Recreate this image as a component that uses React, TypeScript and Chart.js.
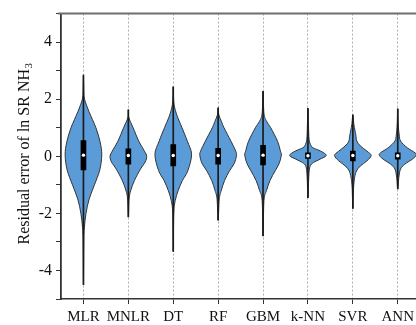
import React, { useEffect, useRef } from "react";
import { Chart, registerables } from "chart.js";

Chart.register(...registerables);

// ---- data ----
const categories = ["MLR", "MNLR", "DT", "RF", "GBM", "k-NN", "SVR", "ANN"];
const q1Values = [-0.48, -0.28, -0.34, -0.28, -0.3, -0.07, -0.16, -0.1];
const q3Values = [0.55, 0.26, 0.41, 0.28, 0.38, 0.12, 0.18, 0.12];
const medianValues = [0.04, 0.03, 0.03, 0.03, 0.04, 0.02, 0.03, 0.02];
const minValues = [-4.5, -2.12, -3.33, -2.24, -2.79, -1.45, -1.83, -1.14];
const maxValues = [2.85, 1.63, 2.43, 1.7, 2.28, 1.68, 1.45, 1.66];
const yTickLabels = [-4, -2, 0, 2, 4];

// density profiles: [residual, relative half-width]
const densityMLR = [
  [2.85, 0], [2.3, 0.02], [2.0, 0.06], [1.57, 0.3], [1.0, 0.68], [0.5, 0.91],
  [0.05, 1.0], [-0.48, 0.89], [-1.0, 0.6], [-1.5, 0.31], [-2.0, 0.14],
  [-2.5, 0.05], [-3.0, 0.02], [-4.5, 0],
];
const densityMNLR = [
  [1.63, 0], [1.35, 0.03], [1.0, 0.26], [0.53, 0.57], [0.18, 0.88], [0.0, 1.0],
  [-0.2, 0.92], [-0.45, 0.66], [-0.85, 0.33], [-1.2, 0.13], [-1.5, 0.04], [-2.12, 0],
];
const densityDT = [
  [2.43, 0], [1.9, 0.03], [1.6, 0.12], [1.35, 0.25], [1.0, 0.48], [0.53, 0.77],
  [0.07, 1.0], [-0.5, 0.8], [-0.85, 0.5], [-1.2, 0.27], [-1.55, 0.11], [-2.0, 0.03], [-3.33, 0],
];
const densityRF = [
  [1.7, 0], [1.45, 0.04], [1.22, 0.18], [1.0, 0.32], [0.53, 0.7], [0.18, 0.96],
  [0.03, 1.0], [-0.25, 0.88], [-0.51, 0.62], [-0.85, 0.35], [-1.2, 0.17], [-1.5, 0.06], [-2.24, 0],
];
const densityGBM = [
  [2.28, 0], [1.5, 0.05], [1.22, 0.2], [1.0, 0.42], [0.53, 0.79], [0.18, 0.95],
  [0.05, 1.0], [-0.25, 0.88], [-0.51, 0.66], [-0.85, 0.38], [-1.2, 0.19], [-1.55, 0.05], [-2.79, 0],
];
const densityKNN = [
  [1.68, 0], [1.1, 0.03], [0.7, 0.05], [0.53, 0.08], [0.41, 0.14], [0.3, 0.27],
  [0.18, 0.7], [0.03, 1.0], [-0.1, 0.66], [-0.22, 0.3], [-0.33, 0.13], [-0.51, 0.07], [-0.8, 0.04], [-1.45, 0],
];
const densitySVR = [
  [1.45, 0], [1.1, 0.06], [0.76, 0.16], [0.53, 0.22], [0.36, 0.42], [0.18, 0.77],
  [0.03, 1.0], [-0.16, 0.77], [-0.34, 0.41], [-0.51, 0.2], [-0.74, 0.1], [-1.1, 0.04], [-1.83, 0],
];
const densityANN = [
  [1.66, 0], [1.1, 0.03], [0.75, 0.08], [0.53, 0.16], [0.3, 0.52], [0.12, 0.95],
  [0.03, 1.0], [-0.1, 0.8], [-0.28, 0.38], [-0.45, 0.15], [-0.74, 0.06], [-1.14, 0],
];
const densities = [densityMLR, densityMNLR, densityDT, densityRF, densityGBM, densityKNN, densitySVR, densityANN];

// ---- styles ----
const VIOLIN_FILL = "#5a9bd8";
const VIOLIN_STROKE = "#333";
const FONT = "'Liberation Serif', 'Times New Roman', serif";

type Pt = { x: number; y: number };

function smoothClosed(ctx: CanvasRenderingContext2D, pts: Pt[]) {
  const n = pts.length;
  ctx.moveTo(pts[0].x, pts[0].y);
  for (let i = 0; i < n; i++) {
    const p0 = pts[(i - 1 + n) % n];
    const p1 = pts[i];
    const p2 = pts[(i + 1) % n];
    const p3 = pts[(i + 2) % n];
    const c1x = p1.x + (p2.x - p0.x) / 6;
    const c1y = p1.y + (p2.y - p0.y) / 6;
    const c2x = p2.x - (p3.x - p1.x) / 6;
    const c2y = p2.y - (p3.y - p1.y) / 6;
    ctx.bezierCurveTo(c1x, c1y, c2x, c2y, p2.x, p2.y);
  }
  ctx.closePath();
}

const violinPlugin = {
  id: "violins",
  beforeDatasetsDraw(chart: any) {
    const { ctx, scales } = chart;
    const xs = scales.x;
    const ys = scales.y;
    const spacing = xs.getPixelForValue(1) - xs.getPixelForValue(0);
    const maxHW = spacing * 0.408;
    ctx.save();
    densities.forEach((prof, i) => {
      const cx = xs.getPixelForValue(i);
      const right: Pt[] = prof.map(([v, w]) => ({ x: cx + w * maxHW, y: ys.getPixelForValue(v) }));
      const left: Pt[] = prof
        .slice()
        .reverse()
        .map(([v, w]) => ({ x: cx - w * maxHW, y: ys.getPixelForValue(v) }));
      const pts = right.concat(left.slice(1, -1));
      ctx.beginPath();
      smoothClosed(ctx, pts);
      ctx.fillStyle = VIOLIN_FILL;
      ctx.fill();
      ctx.lineWidth = 1;
      ctx.strokeStyle = VIOLIN_STROKE;
      ctx.stroke();
    });
    ctx.restore();
  },
  afterDraw(chart: any) {
    const { ctx, chartArea } = chart;
    ctx.save();
    // top frame line
    ctx.strokeStyle = "#6e6e6e";
    ctx.lineWidth = 2;
    ctx.beginPath();
    ctx.moveTo(chartArea.left - 3, chartArea.top);
    ctx.lineTo(chart.width, chartArea.top);
    ctx.stroke();
    // y axis title with subscript
    const main = "Residual error of ln SR NH";
    const sub = "3";
    const size = 16;
    ctx.font = `${size}px ${FONT}`;
    const wMain = ctx.measureText(main).width;
    ctx.font = `${size * 0.68}px ${FONT}`;
    const wSub = ctx.measureText(sub).width;
    const total = wMain + wSub;
    const cy = 154;
    ctx.translate(25, cy);
    ctx.rotate(-Math.PI / 2);
    ctx.fillStyle = "#111";
    ctx.textBaseline = "middle";
    ctx.textAlign = "left";
    ctx.font = `${size}px ${FONT}`;
    ctx.fillText(main, -total / 2, 0);
    ctx.font = `${size * 0.68}px ${FONT}`;
    ctx.fillText(sub, -total / 2 + wMain + 0.5, 4);
    ctx.restore();
  },
};

export default function App() {
  const ref = useRef<HTMLCanvasElement | null>(null);
  useEffect(() => {
    if (!ref.current) return;
    const chart = new Chart(ref.current, {
      type: "bar",
      data: {
        labels: categories,
        datasets: [
          {
            type: "bar",
            data: categories.map((_, i) => [minValues[i], maxValues[i]]),
            backgroundColor: "#1a1a1a",
            barThickness: 1,
            grouped: false,
            order: 3,
          } as any,
          {
            type: "bar",
            data: categories.map((_, i) => [q1Values[i], q3Values[i]]),
            backgroundColor: "#000",
            barThickness: 5,
            grouped: false,
            order: 2,
          } as any,
          {
            type: "line",
            data: medianValues,
            showLine: false,
            pointRadius: 1.7,
            pointBackgroundColor: "#fff",
            pointBorderWidth: 0,
            order: 1,
          } as any,
        ],
      },
      options: {
        animation: false,
        responsive: false,
        layout: { padding: { top: 12, right: 19.8, left: 0, bottom: 0 } },
        plugins: { legend: { display: false }, tooltip: { enabled: false } },
        scales: {
          x: {
            offset: true,
            grid: {
              offset: false,
              color: "#b0b0b0",
              lineWidth: 1,
              drawTicks: true,
              tickLength: 5,
              tickColor: "#333",
              tickBorderDash: [],
            },
            border: { color: "#333", width: 1.5, dash: [2, 2] },
            ticks: { font: { family: FONT, size: 15 }, color: "#111", padding: 4, autoSkip: false, maxRotation: 0 },
            afterFit(s: any) {
              s.height = 26;
            },
          },
          y: {
            min: -5,
            max: 5,
            grid: { drawOnChartArea: false, tickLength: 5, tickColor: "#333" },
            border: { color: "#333", width: 1.8 },
            ticks: {
              stepSize: 1,
              autoSkip: false,
              callback: (v: any) => (yTickLabels.includes(Number(v)) ? String(v) : ""),
              font: { family: FONT, size: 16 },
              color: "#111",
              padding: 4,
            },
            afterFit(s: any) {
              s.width = 61;
            },
          },
        },
      } as any,
      plugins: [violinPlugin],
    });
    return () => chart.destroy();
  }, []);
  return (
    <div style={{ position: "fixed", left: 0, top: 0, width: 416, height: 325, overflow: "hidden", background: "#fff" }}>
      <canvas ref={ref} width={440} height={325} style={{ display: "block", width: 440, height: 325 }} />
    </div>
  );
}
